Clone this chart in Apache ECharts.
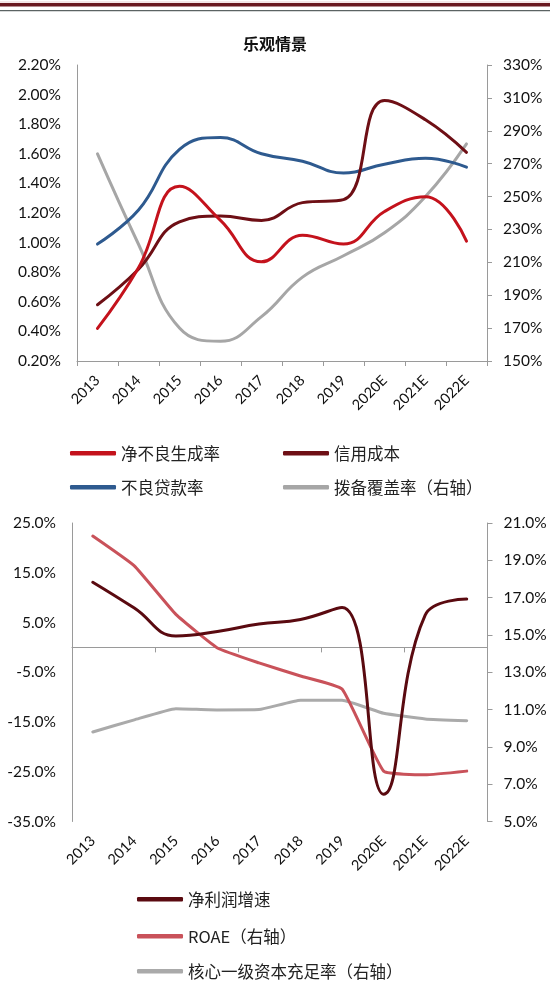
<!DOCTYPE html>
<html><head><meta charset="utf-8">
<script src="https://cdn.jsdelivr.net/npm/echarts@6/dist/echarts.min.js"></script>
<style>html,body{margin:0;padding:0;background:#fff}#c{width:550px;height:981px}</style>
</head><body><div id="c"></div>
<script>
// ---- data ----
const years = ['2013','2014','2015','2016','2017','2018','2019','2020E','2021E','2022E'];
// top chart (left axis, %)
const netNplFormation = [0.42, 0.83, 1.38, 1.15, 0.87, 1.05, 0.99, 1.21, 1.31, 1.01];
const creditCost      = [0.58, 0.82, 1.14, 1.18, 1.15, 1.27, 1.29, 1.96, 1.83, 1.61];
const nplRatio        = [0.99, 1.22, 1.63, 1.71, 1.60, 1.55, 1.47, 1.53, 1.57, 1.51];
// top chart (right axis, %)
const provisionCoverage = [276, 221, 170, 162, 177, 201, 214, 228, 250, 282];
// bottom chart (left axis, %)
const netProfitGrowth = [13.1, 7.9, 2.3, 3.2, 4.7, 5.6, 8.0, -29.5, 6.5, 9.7];
// bottom chart (right axis, %)
const roae  = [20.3, 18.7, 16.1, 14.3, 13.5, 12.8, 12.1, 7.7, 7.5, 7.7];
const cet1  = [9.8, 10.45, 11.05, 10.98, 11.0, 11.5, 11.5, 10.8, 10.5, 10.4];

const names = {
  a: '净不良生成率', b: '信用成本', c: '不良贷款率', d: '拨备覆盖率（右轴）',
  e: '净利润增速', f: 'ROAE（右轴）', g: '核心一级资本充足率（右轴）'
};

const axisColor = '#9a9a9a';
const numFont = 'Lato';
const cjkFont = '"Noto Sans CJK SC"';

function yAx(grid, min, max, interval, pos, fmt, ticks) {
  return {
    gridIndex: grid, type: 'value', min: min, max: max, interval: interval, position: pos,
    axisLine: { show: true, lineStyle: { color: axisColor, width: 1 } },
    axisTick: { show: ticks, length: 5, lineStyle: { color: axisColor } },
    splitLine: { show: false },
    axisLabel: { formatter: fmt, margin: 16, fontFamily: numFont, fontSize: 15.5, color: '#111' }
  };
}
const xLabel = { rotate: 45, margin: 17, fontFamily: numFont, fontSize: 14.5, color: '#111', interval: 0 };

function line(name, data, color, xi, yi, smooth, width) {
  return {
    name: name, type: 'line', data: data, xAxisIndex: xi, yAxisIndex: yi,
    smooth: smooth, symbol: 'none', showSymbol: false,
    lineStyle: { color: color, width: width || 3, cap: 'round', join: 'round' },
    itemStyle: { color: color }, emphasis: { disabled: true }
  };
}
function leg(name, left, top) {
  return {
    data: [name], left: left, top: top, padding: 0, selectedMode: false,
    icon: 'roundRect', itemWidth: 46, itemHeight: 4.5, itemGap: 0,
    textStyle: { fontFamily: cjkFont, fontSize: 16.5, color: '#222' }
  };
}

const chart = echarts.init(document.getElementById('c'), null, { renderer: 'canvas' });
chart.setOption({
  animation: false,
  backgroundColor: '#fff',
  graphic: [
    { type: 'rect', shape: { x: 0, y: 1.5, width: 550, height: 1 }, style: { fill: '#ead0d2' } },
    { type: 'rect', shape: { x: 0, y: 3, width: 550, height: 3.5 }, style: { fill: '#6a1a21' } },
    { type: 'rect', shape: { x: 0, y: 10, width: 550, height: 1.3 }, style: { fill: '#5b6363' } }
  ],
  title: {
    text: '乐观情景', left: 'center', top: 31,
    textStyle: { fontFamily: cjkFont, fontSize: 16, fontWeight: 'bold', color: '#111' }
  },
  grid: [
    { left: 77, right: 63, top: 65, height: 296 },
    { left: 72, right: 62.5, top: 523, height: 298.5 }
  ],
  xAxis: [
    { gridIndex: 0, type: 'category', data: years,
      axisLine: { lineStyle: { color: axisColor } },
      axisTick: { show: true, length: 5, lineStyle: { color: axisColor } },
      axisLabel: xLabel },
    { gridIndex: 1, type: 'category', data: years, position: 'bottom',
      axisLine: { show: true, onZero: true, lineStyle: { color: axisColor } },
      axisTick: { show: true, length: 5, lineStyle: { color: axisColor } },
      axisLabel: { show: false } },
    { gridIndex: 1, type: 'category', data: years, position: 'bottom',
      axisLine: { show: false, onZero: false },
      axisTick: { show: false },
      axisLabel: xLabel }
  ],
  yAxis: [
    yAx(0, 0.2, 2.2, 0.2, 'left', v => v.toFixed(2) + '%', false),
    yAx(0, 150, 330, 20, 'right', v => Math.round(v) + '%', true),
    yAx(1, -35, 25, 10, 'left', v => v.toFixed(1) + '%', false),
    yAx(1, 5, 21, 2, 'right', v => v.toFixed(1) + '%', true)
  ],
  legend: [
    leg(names.a, 70, 445), leg(names.b, 283, 445),
    leg(names.c, 70, 479), leg(names.d, 283, 479),
    leg(names.e, 137, 891), leg(names.f, 137, 928), leg(names.g, 137, 963)
  ],
  series: [
    line(names.d, provisionCoverage, '#a6a6a6', 0, 1, 0.45),
    line(names.c, nplRatio, '#2e5a8f', 0, 0, 0.45),
    line(names.b, creditCost, '#6e0f15', 0, 0, 0.45),
    line(names.a, netNplFormation, '#c4121c', 0, 0, 0.45),
    line(names.g, cet1, '#aaaaaa', 1, 3, 0.12),
    line(names.f, roae, '#c9525a', 1, 3, 0.12),
    line(names.e, netProfitGrowth, '#5a0a10', 1, 2, 0.45)
  ]
});
</script>
</body></html>
